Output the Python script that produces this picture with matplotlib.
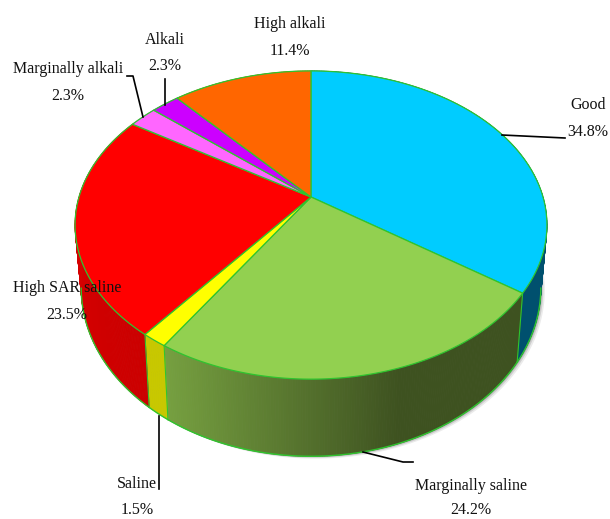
import numpy as np
import matplotlib.pyplot as plt
from matplotlib.colors import to_rgb

plt.rcParams['font.family'] = ['Liberation Serif', 'DejaVu Serif']

# clockwise from 12 o'clock
labels = ["Good", "Marginally saline", "Saline", "High SAR saline",
          "Marginally alkali", "Alkali", "High alkali"]
values = [34.8, 24.2, 1.5, 23.5, 2.3, 2.3, 11.4]
top_colors = ["#00ccff", "#92d050", "#ffff00", "#ff0000", "#ff66ff", "#cc00ff", "#ff6600"]
# side wall colours, start and end of the gradient (by screen x)
wall_colors = [("#00506e", "#00506e"), ("#3e5220", "#76a040"), ("#c8c800", "#c8c800"),
               ("#cc0000", "#e00000"), ("#cc50cc", "#cc50cc"), ("#a000cc", "#a000cc"),
               ("#cc5200", "#cc5200")]
edge = "#2fc42f"


def rim(theta, cy, a, b, k=0.182):
    # perspective circle: far side gets squeezed
    u, v = np.sin(theta), np.cos(theta)
    w = 1 + k * v
    return 311 + a * u / w, cy - b * v / w


def top_rim(theta):
    return rim(theta, 197, 232, 149)


def low_rim(theta):
    return rim(theta, 257, 226, 163)


fig = plt.figure(figsize=(6.1, 5.19), dpi=100)
ax = fig.add_axes([0, 0, 1, 1])
ax.set_xlim(0, 610)
ax.set_ylim(519, 0)
ax.axis("off")

edges = np.radians(np.cumsum([0] + values) * 3.6)

# soft shadow under the lower rim
t = np.linspace(np.radians(60), np.radians(262), 200)
for off, al in [(4, 0.08), (2.5, 0.12), (1.2, 0.18)]:
    sx, sy = low_rim(t)
    ax.fill(sx + off, sy + off * 0.6, color="black", alpha=al, lw=0, zorder=1)

# side walls
for i in range(len(values)):
    c1, c2 = wall_colors[i]
    c1, c2 = np.array(to_rgb(c1)), np.array(to_rgb(c2))
    t = np.linspace(edges[i], edges[i + 1], max(int(np.degrees(edges[i + 1] - edges[i])) * 2, 2))
    xt, yt = top_rim(t)
    xl, yl = low_rim(t)
    for j in range(len(t) - 1):
        # marginally saline stays flat dark past x=400
        f = np.clip((400 - xt[j]) / (400 - 165), 0, 1) if i == 1 else j / (len(t) - 1)
        col = c1 + (c2 - c1) * f
        ax.fill([xt[j], xt[j + 1], xl[j + 1], xl[j]], [yt[j], yt[j + 1], yl[j + 1], yl[j]],
                color=col, lw=0.6, zorder=2)
    # only the front part of the lower rim shows
    front = np.cos(t) < -0.18
    ax.plot(xl[front], yl[front], color=edge, lw=1, zorder=3)
    if np.cos(edges[i]) < -0.2:
        ax.plot([xt[0], xl[0]], [yt[0], yl[0]], color=edge, lw=0.8, zorder=3)

# top face
for i in range(len(values)):
    t = np.linspace(edges[i], edges[i + 1], 120)
    xt, yt = top_rim(t)
    ax.fill(np.r_[311, xt], np.r_[197, yt], facecolor=top_colors[i], edgecolor=edge, lw=0.9, zorder=4)

# leader lines
leaders = [([502, 565], [135, 138]),
           ([363, 403, 413], [452, 462, 462]),
           ([159, 159], [416, 489]),
           ([127, 133, 143], [76, 76, 117]),
           ([165, 165], [79, 105])]
for lx, ly in leaders:
    ax.plot(lx, ly, color="black", lw=1.2, zorder=5)

# x, y of name, y of percent
positions = [(588, 105, 132), (471, 486, 510), (137, 484, 510), (67, 288, 315),
             (68, 69, 96), (165, 40, 66), (290, 24, 51)]
for name, val, (x, y1, y2) in zip(labels, values, positions):
    ax.text(x, y1, name, ha="center", va="center", fontsize=11.5, color="#111111", zorder=6)
    ax.text(x, y2, f"{val}%", ha="center", va="center", fontsize=11.5, color="#111111", zorder=6)

fig.savefig("out.png", dpi=100)
